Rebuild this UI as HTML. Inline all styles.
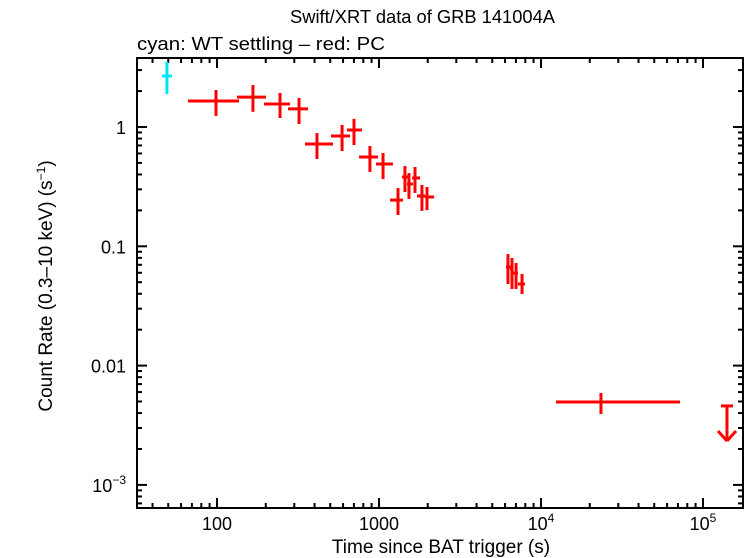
<!DOCTYPE html>
<html><head><meta charset="utf-8"><style>
body{margin:0;background:#fff}
svg{display:block}
text{font-family:"Liberation Sans",sans-serif;fill:#000}
</style></head><body>
<svg id="chart" width="746" height="558" viewBox="0 0 746 558" xmlns="http://www.w3.org/2000/svg">
<text x="290" y="23" font-size="18" textLength="265" lengthAdjust="spacingAndGlyphs">Swift/XRT data of GRB 141004A</text>
<text x="137" y="50" font-size="18" textLength="248" lengthAdjust="spacingAndGlyphs">cyan: WT settling – red: PC</text>
<text transform="translate(52,286) rotate(-90)" font-size="19" text-anchor="middle">Count Rate (0.3–10 keV) (s<tspan dy="-7" font-size="12">−1</tspan><tspan dy="7">)</tspan></text>
<text x="441" y="553" font-size="19" text-anchor="middle">Time since BAT trigger (s)</text>
<g id="ticks"></g>
<g id="series"></g>
<rect x="137" y="58" width="606" height="450" fill="none" stroke="#000" stroke-width="2"/>
</svg>
<script>
// WT settling (cyan)
const wtTime=[49.1], wtTlo=[45.7], wtThi=[52.7];
const wtRate=[2.68], wtRlo=[1.89], wtRhi=[3.51];
// PC (red)
const pcTime=[98.6,166.7,244.9,320.9,414,591.6,701,879,1059,1310,1446,1531,1668,1841,1978,6252,6623,7015,7638,23450];
const pcTlo=[66.2,132.8,195,274.4,349,505.5,634,753,958,1169,1386,1489,1600,1717,1923,6081,6442,6715,7211,12380];
const pcThi=[136.7,200.5,282.5,364.5,520,662,785,986,1219,1406,1510,1622,1791,1923,2187,6531,6715,7211,7962,72100];
const pcRate=[1.65,1.78,1.56,1.42,0.721,0.841,0.944,0.561,0.490,0.244,0.381,0.333,0.374,0.264,0.259,0.0670,0.0645,0.0597,0.0483,0.00495];
const pcRlo=[1.24,1.34,1.19,1.06,0.540,0.629,0.706,0.420,0.366,0.183,0.285,0.249,0.280,0.198,0.201,0.0483,0.0439,0.0439,0.0398,0.00393];
const pcRhi=[2.04,2.25,1.93,1.75,0.891,1.04,1.17,0.693,0.605,0.308,0.471,0.411,0.462,0.327,0.314,0.0861,0.0798,0.0724,0.0586,0.00589];
// upper limit
const ulTime=[140600], ulRate=[0.00459];
const xTickVals=[100,1000,10000,100000];
const xTickLabels=["100","1000","10^4","10^5"];
const yTickVals=[1,0.1,0.01,0.001];
const yTickLabels=["1","0.1","0.01","10^-3"];

const L=137,R=743,T=58,B=508;
const X=v=>217+162*(Math.log10(v)-2);
const Y=v=>127-119.3*Math.log10(v);
const NS="http://www.w3.org/2000/svg";
const tg=document.getElementById('ticks'), sg=document.getElementById('series');
function ln(g,x1,y1,x2,y2,c,w){const e=document.createElementNS(NS,'line');
e.setAttribute('x1',x1);e.setAttribute('y1',y1);e.setAttribute('x2',x2);e.setAttribute('y2',y2);
e.setAttribute('stroke',c);e.setAttribute('stroke-width',w);g.appendChild(e);return e;}
function lbl(x,y,s,anchor){const t=document.createElementNS(NS,'text');
t.setAttribute('x',x);t.setAttribute('y',y);t.setAttribute('font-size','18');t.setAttribute('text-anchor',anchor);
const m=s.split('^');t.appendChild(document.createTextNode(m[0]));
if(m[1]){const sp=document.createElementNS(NS,'tspan');sp.setAttribute('dy','-8');sp.setAttribute('font-size','12');sp.textContent=m[1].replace('-','−');t.appendChild(sp);}
tg.appendChild(t);return t;}
// x ticks
for(let d=1;d<=5;d++)for(let k=1;k<10;k++){const v=k*Math.pow(10,d);const x=X(v);if(x<L+1||x>R-1)continue;
const len=k===1?10:5;
const a=ln(tg,x,B,x,B-len,'#000',2);
const b=ln(tg,x,T,x,T+len,'#000',2);}
xTickVals.forEach((v,i)=>{const t=lbl(X(v),530,xTickLabels[i],'middle');

});
// y ticks
for(let d=-4;d<=0;d++)for(let k=1;k<10;k++){const v=k*Math.pow(10,d);const y=Y(v);if(y<T+1||y>B-1)continue;
const len=k===1?10:5;
const a=ln(tg,L,y,L+len,y,'#000',2);
const b=ln(tg,R,y,R-len,y,'#000',2);}
yTickVals.forEach((v,i)=>{const t=lbl(126,Y(v)+7,yTickLabels[i],'end');

});
function pt(t,tl,th,r,rl,rh,c,name){const g=document.createElementNS(NS,'g');


ln(g,X(tl),Y(r),X(th),Y(r),c,3);ln(g,X(t),Y(rl),X(t),Y(rh),c,3);sg.appendChild(g);}
wtTime.forEach((t,i)=>pt(t,wtTlo[i],wtThi[i],wtRate[i],wtRlo[i],wtRhi[i],'#00e5ff','wt-point'));
pcTime.forEach((t,i)=>pt(t,pcTlo[i],pcThi[i],pcRate[i],pcRlo[i],pcRhi[i],'#ff0000','pc-point'));
ulTime.forEach((t,i)=>{const g=document.createElementNS(NS,'g');


const x=X(t),y=Y(ulRate[i]);
ln(g,x-6,y,x+6,y,'#f00',3);ln(g,x,y,x,y+34,'#f00',3);
ln(g,x-9,y+25,x,y+35,'#f00',3);ln(g,x+9,y+25,x,y+35,'#f00',3);sg.appendChild(g);});
</script>
</body></html>
